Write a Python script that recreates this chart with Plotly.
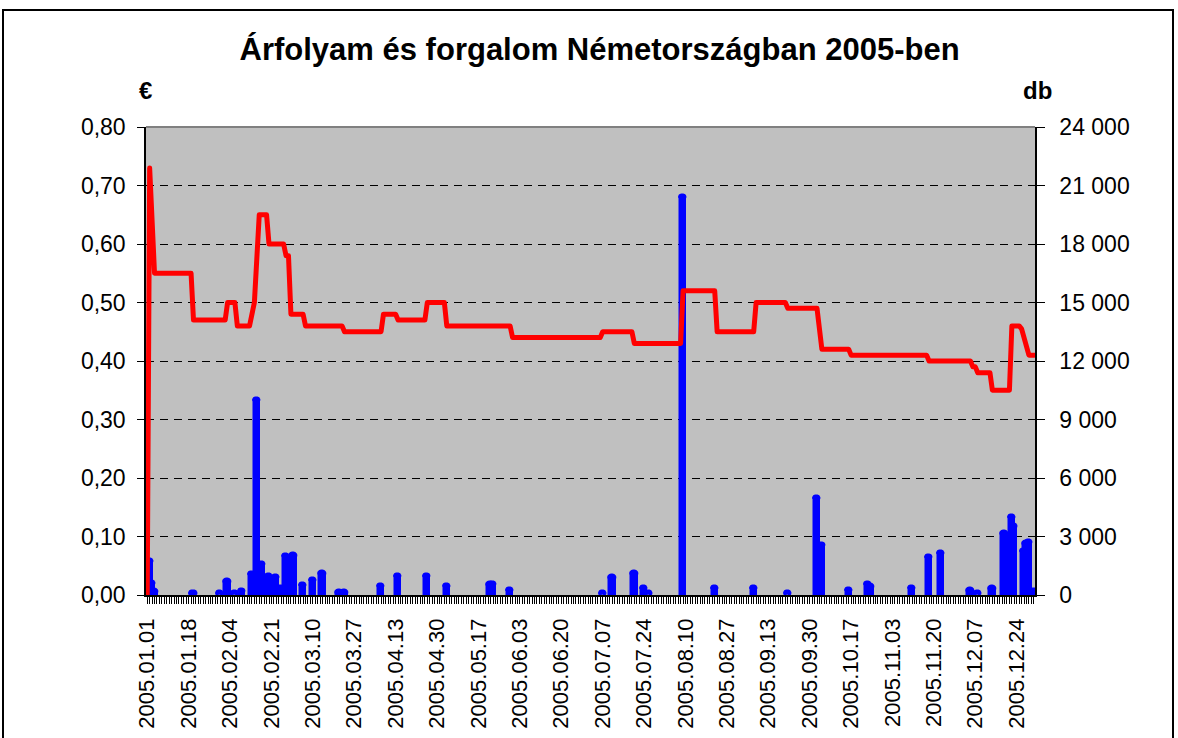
import plotly.graph_objects as go

# ---- data ----
tick_labels = ["2005.01.01", "2005.01.18", "2005.02.04", "2005.02.21", "2005.03.10",
               "2005.03.27", "2005.04.13", "2005.04.30", "2005.05.17", "2005.06.03",
               "2005.06.20", "2005.07.07", "2005.07.24", "2005.08.10", "2005.08.27",
               "2005.09.13", "2005.09.30", "2005.10.17", "2005.11.03", "2005.11.20",
               "2005.12.07", "2005.12.24"]

price_dates = ["2005-01-01", "2005-01-02", "2005-01-04", "2005-01-19", "2005-01-20",
               "2005-02-02", "2005-02-03", "2005-02-06", "2005-02-07", "2005-02-12",
               "2005-02-14", "2005-02-16", "2005-02-19", "2005-02-20", "2005-02-26",
               "2005-02-27", "2005-02-28", "2005-03-01", "2005-03-06", "2005-03-07",
               "2005-03-22", "2005-03-23", "2005-04-07", "2005-04-08", "2005-04-13",
               "2005-04-14", "2005-04-25", "2005-04-26", "2005-05-03", "2005-05-04",
               "2005-05-30", "2005-05-31", "2005-07-06", "2005-07-07", "2005-07-19",
               "2005-07-20", "2005-08-08", "2005-08-09", "2005-08-22", "2005-08-23",
               "2005-09-07", "2005-09-08", "2005-09-20", "2005-09-21", "2005-10-03",
               "2005-10-05", "2005-10-16", "2005-10-17", "2005-11-17", "2005-11-18",
               "2005-12-05", "2005-12-06", "2005-12-07", "2005-12-08", "2005-12-13",
               "2005-12-14", "2005-12-21", "2005-12-22", "2005-12-25", "2005-12-26",
               "2005-12-27", "2005-12-28", "2005-12-29", "2005-12-31"]
price_values = [0.00, 0.73, 0.55, 0.55, 0.47,
                0.47, 0.50, 0.50, 0.46, 0.46,
                0.50, 0.65, 0.65, 0.60, 0.60,
                0.58, 0.58, 0.48, 0.48, 0.46,
                0.46, 0.45, 0.45, 0.48, 0.48,
                0.47, 0.47, 0.50, 0.50, 0.46,
                0.46, 0.44, 0.44, 0.45, 0.45,
                0.43, 0.43, 0.52, 0.52, 0.45,
                0.45, 0.50, 0.50, 0.49, 0.49,
                0.42, 0.42, 0.41, 0.41, 0.40,
                0.40, 0.39, 0.39, 0.38, 0.38,
                0.35, 0.35, 0.46, 0.46, 0.455,
                0.44, 0.42, 0.41, 0.41]

volume_dates = ["2005-01-02", "2005-01-03", "2005-01-04", "2005-01-20", "2005-01-31",
                "2005-02-03", "2005-02-06", "2005-02-09", "2005-02-13", "2005-02-15",
                "2005-02-17", "2005-02-20", "2005-02-23", "2005-02-25", "2005-02-27",
                "2005-03-02", "2005-03-06", "2005-03-10", "2005-03-14", "2005-03-21",
                "2005-03-23", "2005-04-07", "2005-04-14", "2005-04-26", "2005-05-04",
                "2005-05-22", "2005-05-23", "2005-05-30", "2005-07-07", "2005-07-11",
                "2005-07-20", "2005-07-24", "2005-07-26", "2005-08-09", "2005-08-22",
                "2005-09-07", "2005-09-21", "2005-10-03", "2005-10-05", "2005-10-16",
                "2005-10-24", "2005-10-25", "2005-11-11", "2005-11-18", "2005-11-23",
                "2005-12-05", "2005-12-08", "2005-12-14", "2005-12-19", "2005-12-22",
                "2005-12-23", "2005-12-27", "2005-12-28", "2005-12-29", "2005-12-31"]
volume_values = [1750, 600, 220, 100, 100,
                 700, 100, 200, 1100, 10000,
                 1600, 1000, 900, 350, 2000,
                 2060, 520, 780, 1150, 170,
                 170, 470, 1000, 1000, 470,
                 550, 550, 270, 100, 900,
                 1150, 350, 80, 20400, 380,
                 380, 100, 5000, 2550, 270,
                 550, 470, 350, 1950, 2150,
                 270, 100, 350, 3200, 4000,
                 3550, 2250, 2650, 2700, 200]

price_ticks = [0.0, 0.1, 0.2, 0.3, 0.4, 0.5, 0.6, 0.7, 0.8]
price_tick_text = ["0,00", "0,10", "0,20", "0,30", "0,40", "0,50", "0,60", "0,70", "0,80"]
volume_ticks = [0, 3000, 6000, 9000, 12000, 15000, 18000, 21000, 24000]
volume_tick_text = ["0", "3 000", "6 000", "9 000", "12 000", "15 000", "18 000", "21 000", "24 000"]

title_text = "Árfolyam és forgalom Németországban 2005-ben"

# ---- figure ----
DAY = 86400000
FONT = "Liberation Sans, Arial, sans-serif"

fig = go.Figure()
fig.add_trace(go.Bar(
    x=volume_dates, y=volume_values, yaxis="y", width=0.95 * DAY,
    marker=dict(color="#0000FF", line=dict(color="#0000FF", width=5.5), cornerradius=2),
    showlegend=False, hoverinfo="skip"))
fig.add_trace(go.Scatter(
    x=price_dates, y=price_values, yaxis="y2", mode="lines",
    line=dict(color="#FF0000", width=5), showlegend=False, hoverinfo="skip"))

tickvals_x = [t.replace(".", "-") for t in tick_labels]

fig.update_layout(
    width=1178, height=738,
    margin=dict(l=146, r=143, t=127, b=143, autoexpand=False),
    paper_bgcolor="white", plot_bgcolor="#C0C0C0",
    font=dict(family=FONT, color="black"),
    title=dict(text="<b>" + title_text + "</b>", x=0.509, xanchor="center",
               y=0.934, yanchor="middle", font=dict(size=31, family=FONT, color="black")),
    bargap=0,
    xaxis=dict(
        type="date", range=["2004-12-31 12:00", "2005-12-31 12:00"],
        tickmode="array", tickvals=tickvals_x, ticktext=tick_labels,
        tickangle=-90, tickfont=dict(size=22, family=FONT, color="black"),
        ticks="outside", ticklen=7, tickcolor="black", tickwidth=1,
        minor=dict(ticks="outside", ticklen=7, tickcolor="black", tickwidth=1,
                   dtick=DAY, tick0="2005-01-01", showgrid=False),
        showline=True, linecolor="black", linewidth=1.5, automargin=False,
        showgrid=False, zeroline=False, ticklabelstandoff=6),
    yaxis=dict(
        range=[0, 24000], side="right", automargin=False,
        tickmode="array", tickvals=volume_ticks, ticktext=volume_tick_text,
        tickfont=dict(size=23, family=FONT, color="black"),
        ticks="outside", ticklen=8, tickcolor="black",
        showline=True, linecolor="black", linewidth=1.5,
        showgrid=True, gridcolor="black", gridwidth=1, griddash="8px,6px",
        zeroline=False, ticklabelstandoff=10),
    yaxis2=dict(
        range=[0, 0.8], side="left", overlaying="y", automargin=False,
        tickmode="array", tickvals=price_ticks, ticktext=price_tick_text,
        tickfont=dict(size=23, family=FONT, color="black"),
        ticks="outside", ticklen=7, tickcolor="black",
        showline=True, linecolor="black", linewidth=1.5,
        showgrid=False, zeroline=False, ticklabelstandoff=7),
    annotations=[
        dict(text="<b>€</b>", x=-0.001, y=1.077, xref="paper", yref="paper",
             xanchor="center", yanchor="middle",
             showarrow=False, font=dict(size=24, family=FONT, color="black")),
        dict(text="<b>db</b>", x=1.0023, y=1.077, xref="paper", yref="paper",
             xanchor="center", yanchor="middle",
             showarrow=False, font=dict(size=24, family=FONT, color="black")),
    ],
    shapes=[
        dict(type="line", xref="paper", yref="paper", x0=0, x1=1, y0=1, y1=1,
             line=dict(color="#808080", width=2)),
        dict(type="rect", xref="paper", yref="paper",
             x0=(3 - 146) / 889, x1=(1173 - 146) / 889,
             y0=-0.4, y1=(595 - 10) / 468,
             line=dict(color="black", width=2), fillcolor="rgba(0,0,0,0)"),
    ],
)

post = ("document.body.style.margin='0';"
        "document.querySelectorAll('.js-line').forEach(function(e){"
        "e.style.strokeLinejoin='round';e.style.strokeLinecap='round';});")

fig.write_html("out.html", post_script=post, config={"displayModeBar": False})
